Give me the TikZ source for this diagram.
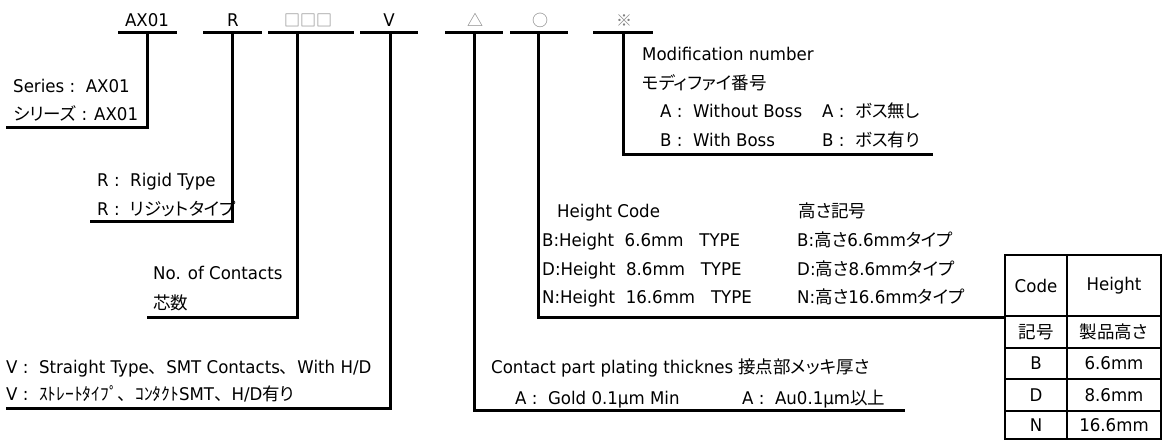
\documentclass[tikz,border=0pt]{standalone}
\usepackage{fontspec}
\setmainfont{DejaVu Sans}[FakeStretch=0.95]
\newfontfamily\jp{Noto Sans CJK JP}[RawFeature=+palt]
\newfontfamily\jpw{Noto Sans CJK JP}
\usetikzlibrary{positioning}

\begin{document}
\begin{tikzpicture}[x=1pt,y=-1pt,
	txt/.style={anchor=base west, inner sep=0pt, font=\fontsize{17.5}{20}\selectfont},
	code/.style={anchor=base, inner sep=0pt, font=\fontsize{17.5}{20}\selectfont},
	sym/.style={anchor=base, inner sep=0pt, text=gray, font=\fontsize{16}{20}\selectfont\jp},
	bar/.style={line width=3pt, line join=miter},
	cell/.style={draw, line width=2.5pt, inner sep=0pt, font=\fontsize{17.5}{20}\selectfont}]
	\useasboundingbox (0,0) rectangle (1163,441);
	
	% code letters on top
	\node [code] (ax) at (147,27) {AX01};
	\node [code] (rig) at (233,27) {R};
	\node [sym] (cnt) at (308,27) {□□□};
	\node [code] (vt) at (389,27) {V};
	\node [sym] (plt) at (475,27) {△};
	\node [sym] (hgt) at (540,27) {○};
	\node [sym] (mod) at (624,27) {※};
	
	% bars under the codes
	\coordinate (ax-l) at (118,33);  \coordinate (ax-r) at (177,33);  \coordinate (ax-m) at (147,33);
	\coordinate (rig-l) at (203,33); \coordinate (rig-r) at (262,33); \coordinate (rig-m) at (232,33);
	\coordinate (cnt-l) at (268,33); \coordinate (cnt-r) at (354,33); \coordinate (cnt-m) at (297,33);
	\coordinate (vt-l) at (360,33);  \coordinate (vt-r) at (418,33);  \coordinate (vt-m) at (390,33);
	\coordinate (plt-l) at (445,33); \coordinate (plt-r) at (503,33); \coordinate (plt-m) at (474,33);
	\coordinate (hgt-l) at (510,33); \coordinate (hgt-r) at (568,33); \coordinate (hgt-m) at (538,33);
	\coordinate (mod-l) at (593,33); \coordinate (mod-r) at (653,33); \coordinate (mod-m) at (623,33);
	\foreach \c in {ax,rig,cnt,vt,plt,hgt,mod}
		\draw [bar] (\c-l) -- (\c-r);
	
	% ends of the leaders
	\coordinate (ax-e) at (6,128);
	\coordinate (rig-e) at (90,222);
	\coordinate (cnt-e) at (147,317);
	\coordinate (vt-e) at (6,408);
	\coordinate (plt-e) at (905,410);
	\coordinate (hgt-e) at (1005,317);
	\coordinate (mod-e) at (933,155);
	\foreach \c in {ax,rig,cnt,vt,plt,hgt,mod}
		\draw [bar] (\c-m) |- (\c-e);
	
	% series
	\node [txt] (ser1) at (13,93) {Series :~~AX01};
	\node [txt] (ser2) at (13,121) {{\jp シリーズ} : AX01};
	% type
	\node [txt] (typ1) at (97,187) {R :~~Rigid Type};
	\node [txt] (typ2) at (97,215) {R :~~{\jp リジットタイプ}};
	% contacts
	\node [txt] (num1) at (153,279) {No. of Contacts};
	\node [txt] (num2) at (153,309) {\jp 芯数};
	% variant
	\node [txt] (var1) at (6,373) {V :~~Straight Type{\jpw 、}SMT Contacts{\jpw 、}With H/D};
	\node [txt] (var2) at (6,400) {V :~~{\jp ｽﾄﾚｰﾄﾀｲﾌﾟ{\jpw 、}ｺﾝﾀｸﾄ}SMT{\jpw 、}H/D{\jp 有り}};
	% modification
	\node [txt] (mdf1) at (642,61) {Modification number};
	\node [txt] (mdf2) at (642,90) {\jp モディファイ番号};
	\node [txt] (mdfa) at (660,118) {A :~~Without Boss};
	\node [txt] (mdfb) at (660,147) {B :~~With Boss};
	\node [txt] (mdfaj) at (822,118) {A :~~{\jp ボス無し}};
	\node [txt] (mdfbj) at (822,147) {B :~~{\jp ボス有り}};
	% height code
	\node [txt] (hc) at (557,218) {Height Code};
	\node [txt] (hcj) at (798,218) {\jp 高さ記号};
	\node [txt] (hcb) at (542,247) {B:Height~~6.6mm~~~TYPE};
	\node [txt] (hcd) at (542,275) {D:Height~~8.6mm~~~TYPE};
	\node [txt] (hcn) at (542,303) {N:Height~~16.6mm~~~TYPE};
	\node [txt] (hcbj) at (797,247) {B:{\jp 高さ}6.6mm{\jp タイプ}};
	\node [txt] (hcdj) at (797,275) {D:{\jp 高さ}8.6mm{\jp タイプ}};
	\node [txt] (hcnj) at (797,303) {N:{\jp 高さ}16.6mm{\jp タイプ}};
	% plating
	\node [txt] (pl) at (491,373) {Contact part plating thicknes};
	\node [txt] (plj) at (738,373) {\jp 接点部メッキ厚さ};
	\node [txt] (pla) at (515,404) {A :~~Gold 0.1µm Min};
	\node [txt] (plaj) at (742,404) {A :~~Au0.1µm{\jp 以上}};
	
	% height table
	\node [cell, minimum width=62pt, minimum height=61pt] (t-code) at (1036,285.5) {Code};
	\node [cell, minimum width=94pt, minimum height=61pt] (t-hgt) at (1114,285.5) {Height};
	\node [cell, minimum width=62pt, minimum height=32pt] (t-c0) at (1036,332) {\jp 記号};
	\node [cell, minimum width=94pt, minimum height=32pt] (t-h0) at (1114,332) {\jp 製品高さ};
	\node [cell, minimum width=62pt, minimum height=31pt] (t-c1) at (1036,363.5) {B};
	\node [cell, minimum width=94pt, minimum height=31pt] (t-h1) at (1114,363.5) {6.6mm};
	\node [cell, minimum width=62pt, minimum height=32pt] (t-c2) at (1036,395) {D};
	\node [cell, minimum width=94pt, minimum height=32pt] (t-h2) at (1114,395) {8.6mm};
	\node [cell, minimum width=62pt, minimum height=28pt] (t-c3) at (1036,425) {N};
	\node [cell, minimum width=94pt, minimum height=28pt] (t-h3) at (1114,425) {16.6mm};
\end{tikzpicture}
\end{document}
